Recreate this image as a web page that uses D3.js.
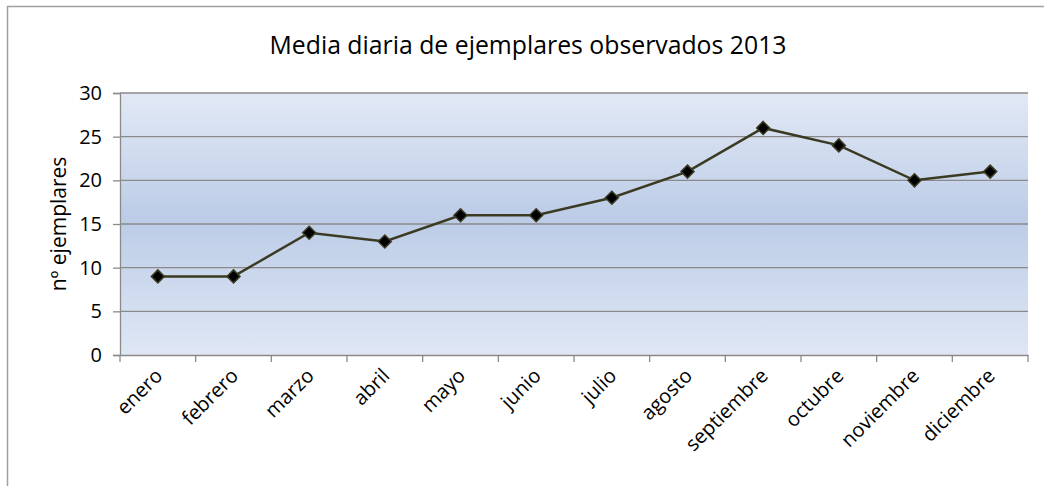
<!DOCTYPE html>
<html><head><meta charset="utf-8">
<script src="https://cdn.jsdelivr.net/npm/d3@7"></script>
<style>body{margin:0;background:#fff}svg{display:block}</style>
</head><body>
<script>
const months = ["enero","febrero","marzo","abril","mayo","junio","julio","agosto","septiembre","octubre","noviembre","diciembre"];
const values = [9, 9, 14, 13, 16, 16, 18, 21, 26, 24, 20, 21];
const yTicks = [0, 5, 10, 15, 20, 25, 30];
const title = "Media diaria de ejemplares observados 2013";
const yLabel = "nº ejemplares";

const W = 1044, H = 486;
const m = {left: 120, right: 1028, top: 93, bottom: 355};
const font = "'Open Sans', 'Liberation Sans', sans-serif";

const svg = d3.select("body").append("svg").attr("width", W).attr("height", H);

// frame
svg.append("line").attr("x1", 7).attr("x2", W).attr("y1", 6.5).attr("y2", 6.5).attr("stroke", "#a0a0a0").attr("stroke-width", 1.5);
svg.append("line").attr("x1", 7.5).attr("x2", 7.5).attr("y1", 6).attr("y2", H).attr("stroke", "#a0a0a0").attr("stroke-width", 1.5);

const x = d3.scaleBand().domain(months).range([m.left, m.right]).paddingInner(0).paddingOuter(0);
const y = d3.scaleLinear().domain([0, 30]).range([m.bottom, m.top]);

const defs = svg.append("defs");
const g = defs.append("linearGradient").attr("id", "bg").attr("x1", 0).attr("x2", 0).attr("y1", 0).attr("y2", 1);
g.append("stop").attr("offset", "0%").attr("stop-color", "#e2e9f5");
g.append("stop").attr("offset", "48%").attr("stop-color", "#bccce7");
g.append("stop").attr("offset", "100%").attr("stop-color", "#dfe7f4");

svg.append("rect").attr("x", m.left).attr("y", m.top).attr("width", m.right - m.left).attr("height", m.bottom - m.top).attr("fill", "url(#bg)");

// gridlines
svg.append("g").selectAll("line").data(yTicks.filter(d => d > 0)).join("line")
  .attr("x1", m.left).attr("x2", m.right).attr("y1", d => y(d)).attr("y2", d => y(d))
  .attr("stroke", "#8a8a8a").attr("stroke-width", 1.3);

// y axis
const yAxis = svg.append("g").attr("transform", `translate(${m.left},0)`)
  .call(d3.axisLeft(y).tickValues(yTicks).tickSize(7).tickPadding(11));
yAxis.select(".domain").attr("stroke", "#8a8a8a").attr("stroke-width", 1.3);
yAxis.selectAll(".tick line").attr("stroke", "#8a8a8a").attr("stroke-width", 1.3);
yAxis.selectAll("text").attr("font-family", font).attr("font-size", 20).attr("fill", "#000");

// x axis
const xAxis = svg.append("g").attr("transform", `translate(0,${m.bottom})`)
  .call(d3.axisBottom(x).tickSize(0).tickFormat(""));
xAxis.select(".domain").attr("stroke", "#8a8a8a").attr("stroke-width", 1.3);
const bounds = months.map(d => x(d)).concat([m.right]);
svg.append("g").selectAll("line").data(bounds).join("line")
  .attr("x1", d => d).attr("x2", d => d).attr("y1", m.bottom).attr("y2", m.bottom + 7)
  .attr("stroke", "#8a8a8a").attr("stroke-width", 1.3);

svg.append("g").selectAll("text").data(months).join("text")
  .attr("transform", d => `translate(${x(d) + x.bandwidth()/2 + 6},${m.bottom + 22}) rotate(-45)`)
  .attr("text-anchor", "end").attr("font-family", font).attr("font-size", 20).attr("fill", "#000")
  .text(d => d);

// title
svg.append("text").attr("x", 528).attr("y", 54).attr("text-anchor", "middle")
  .attr("font-family", font).attr("font-size", 24.8).attr("fill", "#000").text(title);

// y label
svg.append("text").attr("transform", `translate(66,${(m.top + m.bottom)/2}) rotate(-90)`)
  .attr("text-anchor", "middle").attr("font-family", font).attr("font-size", 21).attr("fill", "#000").text(yLabel);

// line
const line = d3.line().x((d, i) => x(months[i]) + x.bandwidth()/2).y(d => y(d));
svg.append("path").datum(values).attr("d", line).attr("fill", "none")
  .attr("stroke", "#3b3a22").attr("stroke-width", 2.5);

svg.append("g").selectAll("path").data(values).join("path")
  .attr("transform", (d, i) => `translate(${x(months[i]) + x.bandwidth()/2},${y(d)})`)
  .attr("d", "M0,-6.5L6.5,0L0,6.5L-6.5,0Z")
  .attr("fill", "#000").attr("stroke", "#3b3a22").attr("stroke-width", 1.5);
</script>
</body></html>
